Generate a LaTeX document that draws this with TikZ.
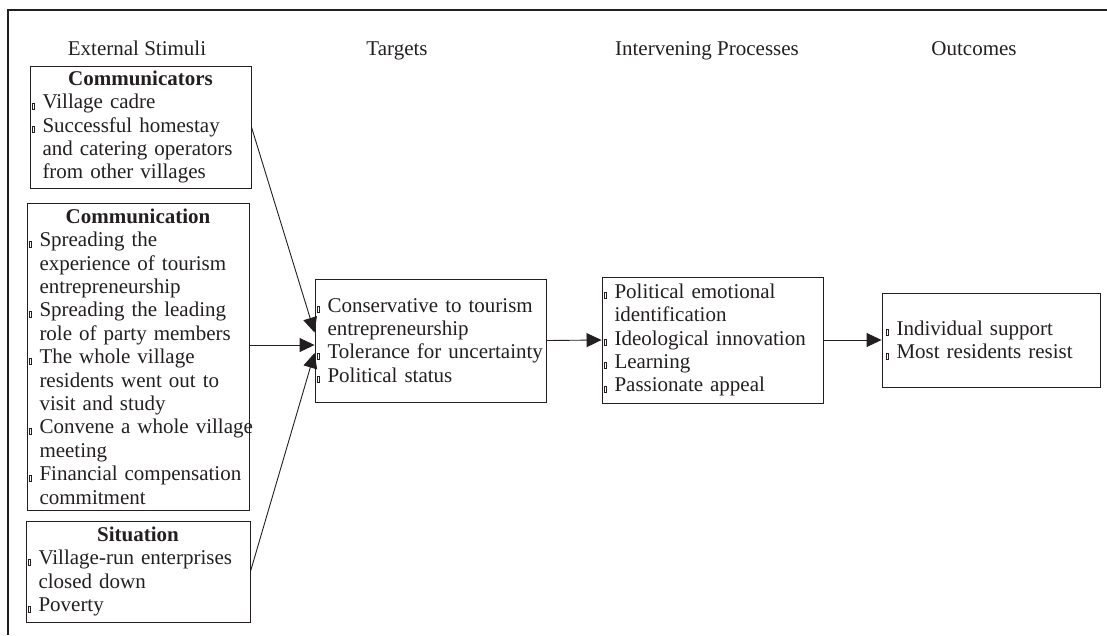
\documentclass[tikz,border=0pt]{standalone}
\usepackage{fontspec}
\setmainfont{Liberation Serif}
\usetikzlibrary{positioning}
\usetikzlibrary{arrows.meta}

\definecolor{ink}{HTML}{231F20}
\newcommand{\tofu}{{\setlength{\fboxsep}{0pt}\setlength{\fboxrule}{0.5pt}\fbox{\rule{2pt}{0pt}\rule{0pt}{5.5pt}}}}
\newcommand{\bl}[1]{\mbox{\makebox[11pt][l]{\tofu}#1}}
\newcommand{\cn}[1]{\mbox{\hspace*{11pt}#1}}
\newcommand{\hd}[1]{\makebox[\hsize][c]{\textbf{#1}}}

\begin{document}
\begin{tikzpicture}[
			x=1pt, y=-1pt, color=ink,
			box/.style={draw=ink, line width=0.9pt, inner ysep=0pt, inner xsep=1.5pt, align=left, font=\fontsize{21}{23.4}\selectfont},
			head/.style={anchor=base, font=\fontsize{21}{23.4}\selectfont},
			arr/.style={-{Triangle[length=15pt,width=14pt]}, line width=0.9pt}
		]
			\useasboundingbox (0,0) rectangle (1107,635);
			\draw[line width=2.5pt] (8,635) -- (8,10) -- (1107,10);
			\node[head] (hE) at (137,55) {External Stimuli};
			\node[head] (hT) at (397,55) {Targets};
			\node[head] (hP) at (707,55) {Intervening Processes};
			\node[head] (hO) at (974,55) {Outcomes};
			\node[box, text width=218pt, minimum height=122pt] (Cr) at (140.5,127) {\hd{Communicators}\\ \bl{Village cadre}\\ \bl{Successful homestay}\\ \cn{and catering operators}\\ \cn{from other villages}};
			\node[box, text width=219pt, minimum height=307pt] (Cn) at (138,356.5) {\hd{Communication}\\ \bl{Spreading the}\\ \cn{experience of tourism}\\ \cn{entrepreneurship}\\ \bl{Spreading the leading}\\ \cn{role of party members}\\ \bl{The whole village}\\ \cn{residents went out to}\\ \cn{visit and study}\\ \bl{Convene a whole village}\\ \cn{meeting}\\ \bl{Financial compensation}\\ \cn{commitment}};
			\node[box, text width=221pt, minimum height=101pt] (Si) at (138,571.5) {\hd{Situation}\\ \bl{Village-run enterprises}\\ \cn{closed down}\\ \bl{Poverty}};
			\node[box, text width=228pt, minimum height=123pt] (T) at (430.5,340.5) {\bl{Conservative to tourism}\\ \cn{entrepreneurship}\\ \bl{Tolerance for uncertainty}\\ \bl{Political status}};
			\node[box, text width=218pt, minimum height=126pt] (P) at (712.5,340) {\bl{Political emotional}\\ \cn{identification}\\ \bl{Ideological innovation}\\ \bl{Learning}\\ \bl{Passionate appeal}};
			\node[box, inner xsep=3.5pt, text width=211pt, minimum height=94pt] (O) at (991,340) {\bl{Individual support}\\ \bl{Most residents resist}};
			\draw[arr] (Cr.east) -- ([yshift=8pt]T.west);
			\draw[arr] ([yshift=11.5pt]Cn.east) -- ([yshift=-4.5pt]T.west);
			\draw[arr] (Si.east) -- ([yshift=-12.5pt]T.west);
			\draw[arr] (T.east) -- (P.west);
			\draw[arr] (P.east) -- (O.west);
		\end{tikzpicture}
\end{document}
